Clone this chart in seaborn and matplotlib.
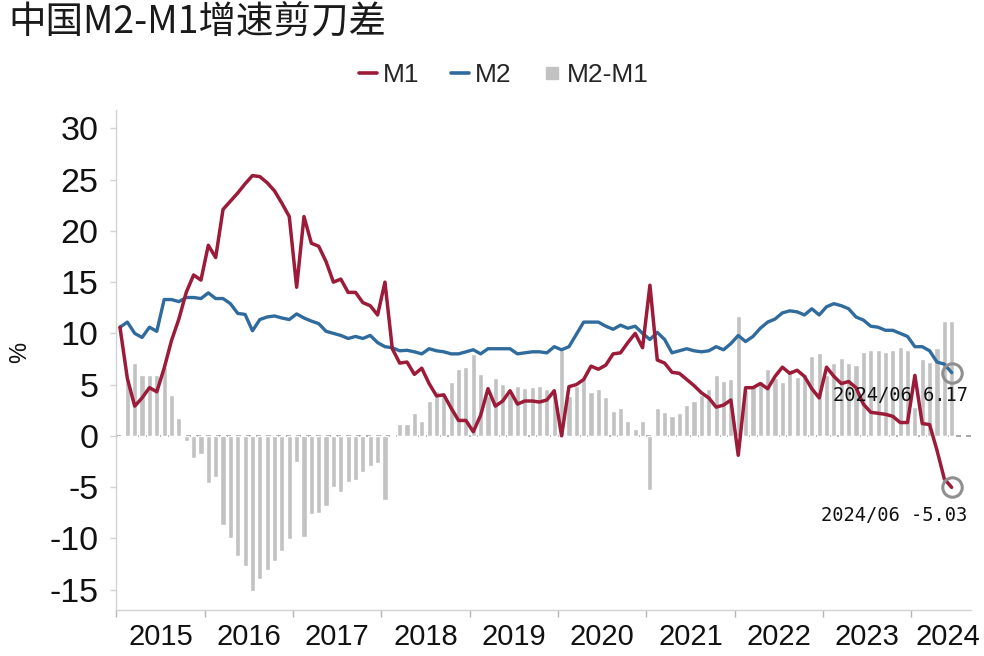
import numpy as np
import pandas as pd
import matplotlib
matplotlib.use("Agg")
import matplotlib.pyplot as plt
from matplotlib.lines import Line2D
import seaborn as sns

# ---------------- data (monthly, 2015/01 - 2024/06) ----------------
title = "中国M2-M1增速剪刀差"
years = ["2015", "2016", "2017", "2018", "2019", "2020", "2021", "2022", "2023", "2024"]
last_label = "2024/06"

m1 = [
    10.6, 5.6, 2.9, 3.7, 4.7, 4.3, 6.6, 9.3, 11.4, 14.0, 15.7, 15.2,      # 2015
    18.6, 17.4, 22.1, 22.9, 23.7, 24.6, 25.4, 25.3, 24.7, 23.9, 22.7, 21.4,  # 2016
    14.5, 21.4, 18.8, 18.5, 17.0, 15.0, 15.3, 14.0, 14.0, 13.0, 12.7, 11.8,  # 2017
    15.0, 8.5, 7.1, 7.2, 6.0, 6.6, 5.1, 3.9, 4.0, 2.7, 1.5, 1.5,          # 2018
    0.4, 2.0, 4.6, 2.9, 3.4, 4.4, 3.1, 3.4, 3.4, 3.3, 3.5, 4.4,           # 2019
    0.0, 4.8, 5.0, 5.5, 6.8, 6.5, 6.9, 8.0, 8.1, 9.1, 10.0, 8.6,          # 2020
    14.7, 7.4, 7.1, 6.2, 6.1, 5.5, 4.9, 4.2, 3.7, 2.8, 3.0, 3.5,          # 2021
    -1.9, 4.7, 4.7, 5.1, 4.6, 5.8, 6.7, 6.1, 6.4, 5.8, 4.6, 3.7,          # 2022
    6.7, 5.8, 5.1, 5.3, 4.7, 3.1, 2.3, 2.2, 2.1, 1.9, 1.3, 1.3,           # 2023
    5.9, 1.2, 1.1, -1.4, -4.2, -5.03,                                     # 2024
]
m2 = [
    10.6, 11.1, 10.0, 9.6, 10.6, 10.2, 13.3, 13.3, 13.1, 13.5, 13.5, 13.4,      # 2015
    13.95, 13.4, 13.4, 12.9, 11.95, 11.85, 10.25, 11.35, 11.6, 11.7, 11.5, 11.35,  # 2016
    11.9, 11.5, 11.2, 10.95, 10.2, 10.0, 9.8, 9.5, 9.7, 9.5, 9.8, 9.1,          # 2017
    8.7, 8.6, 8.3, 8.35, 8.2, 8.0, 8.5, 8.3, 8.2, 8.0, 8.0, 8.2,                # 2018
    8.4, 8.0, 8.5, 8.5, 8.5, 8.5, 8.0, 8.1, 8.2, 8.2, 8.1, 8.7,                 # 2019
    8.4, 8.7, 9.9, 11.1, 11.1, 11.1, 10.7, 10.4, 10.8, 10.5, 10.7, 10.0,        # 2020
    9.4, 10.1, 9.4, 8.1, 8.3, 8.5, 8.3, 8.2, 8.3, 8.7, 8.4, 9.0,                # 2021
    9.8, 9.2, 9.7, 10.5, 11.1, 11.4, 12.0, 12.2, 12.1, 11.8, 12.4, 11.8,        # 2022
    12.6, 12.9, 12.7, 12.4, 11.6, 11.3, 10.7, 10.6, 10.3, 10.3, 10.0, 9.7,      # 2023
    8.7, 8.7, 8.3, 7.2, 7.0, 6.17,                                              # 2024
]

df = pd.DataFrame({"t": np.arange(len(m1)), "M1": m1, "M2": m2})
df["M2-M1"] = df["M2"] - df["M1"]

RED = "#9c1b38"
BLUE = "#2f6b9c"
GRAY = "#c2c2c2"
SPINE = "#d2d2d2"

sns.set_style("white")
plt.rcParams["font.family"] = ["Liberation Sans", "DejaVu Sans"]
plt.rcParams["axes.unicode_minus"] = False

fig = plt.figure(figsize=(9.84, 6.56), dpi=100)
ax = fig.add_axes([0.1182, 0.0701, 0.8684, 0.7622])

sns.barplot(data=df, x="t", y="M2-M1", native_scale=True, width=0.7,
            color=GRAY, saturation=1, errorbar=None, ax=ax, zorder=2)
ax.axhline(0, color="#9a9a9a", lw=1.2, ls=(0, (3, 3)), zorder=1.5)
sns.lineplot(data=df, x="t", y="M2", color=BLUE, lw=2.4, ax=ax, zorder=3)
sns.lineplot(data=df, x="t", y="M1", color=RED, lw=2.5, ax=ax, zorder=4)

n = len(df) - 1
ax.plot([df["t"].iloc[-1]] * 2, [df["M2"].iloc[-1], df["M1"].iloc[-1]], ls="none",
        marker="o", ms=14, mfc="none", mec="#8f8f8f", mew=2.2, zorder=5)

ax.annotate(f"{last_label} {df['M2'].iloc[-1]:.2f}", xy=(n, df["M2"].iloc[-1]),
            xytext=(16, -23), textcoords="offset pixels", ha="right", va="center",
            fontsize=13.5, family="DejaVu Sans Mono", color="#111111", zorder=6)
ax.annotate(f"{last_label} {df['M1'].iloc[-1]:.2f}", xy=(n, df["M1"].iloc[-1]),
            xytext=(16, -28), textcoords="offset pixels", ha="right", va="center",
            fontsize=13.5, family="DejaVu Sans Mono", color="#111111", zorder=6)

# axes / ticks
ax.set_xlim(-0.5, 115.6)
ax.set_ylim(-17.0, 31.8)
ax.set_yticks(np.arange(-15, 31, 5))
ax.set_xticks([12 * k - 0.5 for k in range(len(years))])
ax.set_xticklabels([])
centers = [12 * k + 5.5 for k in range(len(years) - 1)] + [112.5]
ax.set_xticks(centers, minor=True)
ax.set_xticklabels(years, minor=True)
ax.set_xlabel("")
ax.set_ylabel("")
ax.tick_params(axis="y", labelsize=24.5, length=4, width=1, color=SPINE, pad=9,
               labelcolor="#111111", direction="out", left=True)
ax.tick_params(axis="x", which="major", length=5, width=1, color="#b5b5b5",
               direction="out", bottom=True)
ax.tick_params(axis="x", which="minor", length=0, labelsize=21, pad=9,
               labelcolor="#111111")
for s in ["top", "right"]:
    ax.spines[s].set_visible(False)
for s in ["left", "bottom"]:
    ax.spines[s].set_color(SPINE)
    ax.spines[s].set_linewidth(1.0)

fig.text(20 / 984, 1 - 352 / 656, "%", rotation=90, fontsize=17, va="center",
         ha="center", color="#111111")
fig.text(8 / 984, 1 - 23 / 656, title, fontsize=27, va="center", ha="left",
         color="#1a1a1a", family=["Noto Sans CJK SC", "DejaVu Sans"])

handles = [Line2D([], [], color=RED, lw=2.6),
           Line2D([], [], color=BLUE, lw=2.6),
           Line2D([], [], color=GRAY, marker="s", ls="none", ms=8)]
fig.legend(handles, ["M1", "M2", "M2-M1"], loc="center",
           bbox_to_anchor=(0.512, 0.886), ncol=3, frameon=False, fontsize=19,
           handlelength=0.7, handletextpad=0.2, columnspacing=1.2)

fig.savefig("out.png", dpi=100)
